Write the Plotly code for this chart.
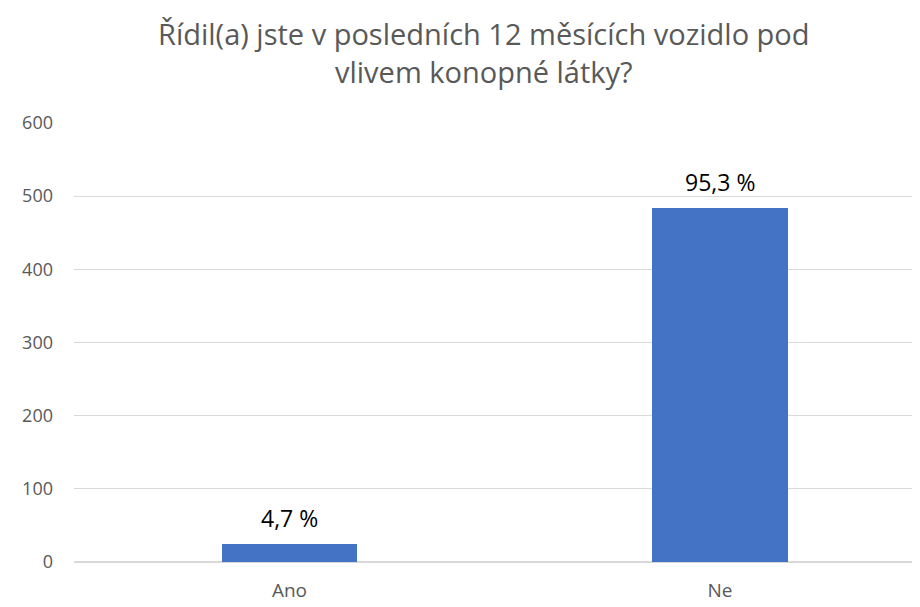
import plotly.graph_objects as go

categories = ["Ano", "Ne"]
counts = [24, 484]
percent_labels = ["4,7 %", "95,3 %"]
y_ticks = [0, 100, 200, 300, 400, 500, 600]

title_text = "Řídil(a) jste v posledních 12 měsících vozidlo pod<br>vlivem konopné látky?"

FONT = "Open Sans"

# page body has an 8px default margin, so the figure is sized to fill the rest
W, H = 912, 599
ML, MR, MT, MB = 66, 0, 115, 45
plot_w = W - ML - MR
plot_h = H - MT - MB

fig = go.Figure()
fig.add_trace(go.Bar(
    x=categories,
    y=counts,
    marker=dict(color="#4472C4", line=dict(width=0)),
    width=0.3136,
    hoverinfo="x+y",
))

for c, v, t in zip(categories, counts, percent_labels):
    fig.add_annotation(
        x=c, y=v, text=t, showarrow=False,
        yanchor="bottom", yshift=8,
        font=dict(family=FONT, size=23, color="#000000"),
    )

fig.add_annotation(
    text=title_text, showarrow=False,
    xref="paper", yref="paper",
    x=(476 - ML) / plot_w, xanchor="center",
    y=1 + (MT - 44) / plot_h, yanchor="middle",
    align="center",
    font=dict(family=FONT, size=29, color="#595959"),
)

fig.update_layout(
    width=W, height=H,
    paper_bgcolor="white", plot_bgcolor="white",
    margin=dict(l=ML, r=MR, t=MT, b=MB, autoexpand=False),
    showlegend=False,
    bargap=0,
)
fig.update_xaxes(
    type="category",
    range=[-0.5006, 1.4646],
    showgrid=False, showline=False, zeroline=False,
    ticks="",
    ticklabelstandoff=15,
    tickfont=dict(family=FONT, size=19, color="#595959"),
)
fig.update_yaxes(
    range=[0, 600],
    tickvals=y_ticks,
    showgrid=True, gridcolor="#D9D9D9", gridwidth=1,
    zeroline=True, zerolinecolor="#D9D9D9", zerolinewidth=1.5,
    showline=False, ticks="",
    ticklabelstandoff=20,
    tickfont=dict(family=FONT, size=18, color="#595959"),
)

fig.write_html("out.html")
